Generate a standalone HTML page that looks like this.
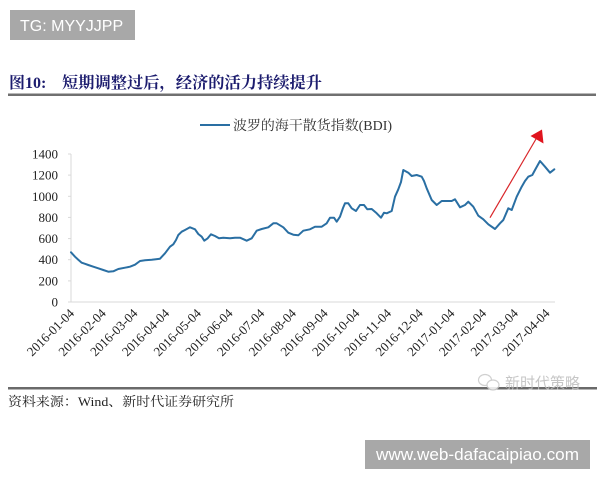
<!DOCTYPE html>
<html>
<head>
<meta charset="utf-8">
<style>
  html,body{margin:0;padding:0;background:#fff;}
  body{width:600px;height:480px;overflow:hidden;position:relative;}
  svg{position:absolute;left:0;top:0;}
</style>
</head>
<body>
<svg width="600" height="480" viewBox="0 0 600 480" xmlns="http://www.w3.org/2000/svg">
  <!-- TG badge -->
  <rect x="10" y="10" width="125" height="30" fill="#a8a8a8"/>
  <text x="20" y="31" font-family="Liberation Sans, sans-serif" font-size="16" fill="#ffffff">TG: MYYJJPP</text>

  <!-- Title -->
  <text x="9" y="88" font-family="Liberation Serif, 'Noto Serif CJK SC', serif" font-size="16" font-weight="bold" fill="#1c1c6e">图10:</text>
  <text x="62" y="88" font-family="Liberation Serif, 'Noto Serif CJK SC', serif" font-size="16" font-weight="bold" fill="#1c1c6e" textLength="260" lengthAdjust="spacingAndGlyphs">短期调整过后，经济的活力持续提升</text>
  <rect x="8" y="93.5" width="588" height="2.5" fill="#707070"/>

  <!-- Legend -->
  <line x1="200" y1="125" x2="230" y2="125" stroke="#2a6fa3" stroke-width="2"/>
  <text x="233" y="130" font-family="Liberation Serif, 'Noto Serif CJK SC', serif" font-size="13.5" fill="#333" textLength="159" lengthAdjust="spacingAndGlyphs">波罗的海干散货指数(BDI)</text>

  <!-- Axes -->
  <line x1="71" y1="154" x2="71" y2="302" stroke="#d9d9d9" stroke-width="1"/>
  <line x1="71" y1="302" x2="555" y2="302" stroke="#d9d9d9" stroke-width="1"/>
  <g stroke="#d9d9d9" stroke-width="1">
    <line x1="68" y1="154" x2="71" y2="154"/>
    <line x1="68" y1="175.1" x2="71" y2="175.1"/>
    <line x1="68" y1="196.3" x2="71" y2="196.3"/>
    <line x1="68" y1="217.4" x2="71" y2="217.4"/>
    <line x1="68" y1="238.6" x2="71" y2="238.6"/>
    <line x1="68" y1="259.7" x2="71" y2="259.7"/>
    <line x1="68" y1="280.9" x2="71" y2="280.9"/>
    <line x1="68" y1="302" x2="71" y2="302"/>
  </g>

  <!-- Y labels -->
  <g font-family="Liberation Serif, serif" font-size="13" fill="#222" text-anchor="end">
    <text x="58" y="158.5">1400</text>
    <text x="58" y="179.6">1200</text>
    <text x="58" y="200.8">1000</text>
    <text x="58" y="221.9">800</text>
    <text x="58" y="243.1">600</text>
    <text x="58" y="264.2">400</text>
    <text x="58" y="285.4">200</text>
    <text x="58" y="306.5">0</text>
  </g>

  <!-- X labels -->
  <g font-family="Liberation Serif, serif" font-size="13" fill="#222" text-anchor="end">
    <text transform="translate(75,314) rotate(-45)">2016-01-04</text>
    <text transform="translate(106.7,314) rotate(-45)">2016-02-04</text>
    <text transform="translate(138.4,314) rotate(-45)">2016-03-04</text>
    <text transform="translate(170.1,314) rotate(-45)">2016-04-04</text>
    <text transform="translate(201.8,314) rotate(-45)">2016-05-04</text>
    <text transform="translate(233.5,314) rotate(-45)">2016-06-04</text>
    <text transform="translate(265.2,314) rotate(-45)">2016-07-04</text>
    <text transform="translate(296.9,314) rotate(-45)">2016-08-04</text>
    <text transform="translate(328.6,314) rotate(-45)">2016-09-04</text>
    <text transform="translate(360.3,314) rotate(-45)">2016-10-04</text>
    <text transform="translate(392,314) rotate(-45)">2016-11-04</text>
    <text transform="translate(423.7,314) rotate(-45)">2016-12-04</text>
    <text transform="translate(455.4,314) rotate(-45)">2017-01-04</text>
    <text transform="translate(487.1,314) rotate(-45)">2017-02-04</text>
    <text transform="translate(518.8,314) rotate(-45)">2017-03-04</text>
    <text transform="translate(550.5,314) rotate(-45)">2017-04-04</text>
  </g>

  <!-- Series -->
  <polyline fill="none" stroke="#2a6fa3" stroke-width="2" stroke-linejoin="round" stroke-linecap="round"
    points="71,252.3 75,256.7 78,259.5 81.7,262.7 85,263.8 88.3,265 93.3,266.7 98.3,268.3 103.3,270 108.3,271.7 113.3,271.3 118.3,269 125,267.7 130,266.7 135,264.7 140,261 145,260.3 151.7,259.7 156,259.2 160,258.7 165,253.3 170,246.7 173.3,244.3 176,240 178.3,235 181.7,231.7 185,230 190,227.3 195,229.3 198.3,234 201.7,236.7 204.3,240.7 207.7,238.3 211,234.3 215,236 219,238.3 223.3,237.7 230,238.3 235,237.7 240,237.7 246.7,240.7 251.7,238.3 256.7,230.7 261.7,229 268.3,227.3 273.3,223.3 276.7,223.3 283.3,227.3 288.3,232.7 293.3,234.7 298.3,235.3 303.3,230.7 310,229.3 315,226.7 321.7,226.7 326.7,223.3 330,217.7 334,217.7 336.7,221.7 340,216.7 343,208 345,203.3 348.3,203.3 351.7,208.3 356,211 360,205 364,205 367.3,209.3 371.7,209 376.7,213.3 381,217.7 384,212.7 386.7,213.3 391.7,211 395,196.7 398.3,189.3 401,182 403.3,170 408.3,172.7 411.7,176 416.7,175 421.7,176.7 424,181 426.7,188.3 431.7,200 436.7,205 441.7,201 446,201 451.7,201 455,199.3 460,207.3 465,205 468.3,201.7 473.3,206.7 478.3,215.7 483.3,219.3 488.3,224.3 495,229 500,223.3 503.3,220 508.3,208.3 511.7,210 516.7,196.7 521.7,186.7 525,181 528.3,176.7 532.3,175 535,170 540,161 545,166.7 550,172.7 554.3,169.3"/>

  <!-- Red arrow -->
  <line x1="490" y1="217.7" x2="536" y2="139" stroke="#d9262a" stroke-width="1.2"/>
  <polygon points="542,129.5 543.5,143.5 530.5,136" fill="#e0141e"/>

  <!-- Bottom rule -->
  <rect x="8" y="387" width="589" height="2.5" fill="#6a6a6a"/>

  <!-- Watermark -->
  <g opacity="0.85">
    <ellipse cx="485" cy="380" rx="6.5" ry="5.5" fill="none" stroke="#c8c8c8" stroke-width="1.2"/>
    <ellipse cx="493" cy="385" rx="6" ry="5" fill="#ffffff" stroke="#c8c8c8" stroke-width="1.2"/>
    <text x="505" y="388" font-family="'Noto Sans CJK SC', sans-serif" font-size="15" fill="#bdbdbd">新时代策略</text>
  </g>

  <!-- Source -->
  <text x="8" y="406" font-family="Liberation Serif, 'Noto Serif CJK SC', serif" font-size="13" fill="#222" textLength="226" lengthAdjust="spacingAndGlyphs">资料来源：Wind、新时代证券研究所</text>

  <!-- Bottom badge -->
  <rect x="365" y="440" width="225" height="29" fill="#a8a8a8"/>
  <text x="376" y="460" font-family="Liberation Sans, sans-serif" font-size="17" fill="#ffffff" textLength="203" lengthAdjust="spacingAndGlyphs">www.web-dafacaipiao.com</text>
</svg>
</body>
</html>
